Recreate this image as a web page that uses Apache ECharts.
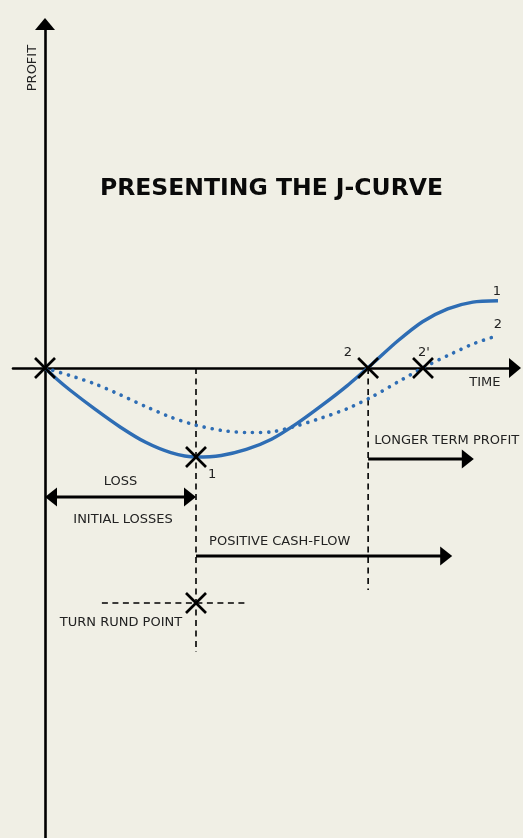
<!DOCTYPE html>
<html>
<head>
<meta charset="utf-8">
<script src="https://cdn.jsdelivr.net/npm/echarts@6/dist/echarts.min.js"></script>
<style>
html,body{margin:0;padding:0;background:#f0efe5;}
#chart{width:523px;height:838px;}
</style>
</head>
<body>
<div id="chart"></div>
<script>
// ---- data (time units / profit units) ----
const time1 = [0,0.25,0.5,1,1.5,2,2.5,3,3.5,4,4.5,5,5.5,6,6.5,7,7.5,8,8.5,9];
const profit1 = [0,-0.53,-1.0,-1.86,-2.66,-3.34,-3.8,-4.0,-3.93,-3.66,-3.2,-2.5,-1.68,-0.8,0.18,1.2,2.08,2.66,2.96,3.02];
const time2 = [0,0.5,1,1.5,2,2.5,3,3.5,4,4.5,5,5.5,6,6.5,7,7.5,8,8.5,8.9];
const profit2 = [0,-0.34,-0.72,-1.21,-1.73,-2.21,-2.57,-2.8,-2.9,-2.87,-2.6,-2.24,-1.83,-1.29,-0.64,0,0.56,1.08,1.39];

// crossing / turning points [time, profit]
const crossTimes = [0, 3, 6.42, 7.51, 3];
const crossProfits = [0, -4.0, 0, 0, -10.56];

// dashed guides: [time1, profit1, time2, profit2]
const guides = [
  [3, 0, 3, -12.76],
  [6.42, 0, 6.42, -9.98],
  [1.13, -10.56, 3.97, -10.56]
];

// arrows: [profit level, from time, to time, double-headed]
const arrows = [
  [-5.80, 0, 3, 1],
  [-4.09, 6.42, 8.52, 0],
  [-8.45, 3, 8.09, 0]
];

// annotations
const annotationText = ['LOSS','INITIAL LOSSES','POSITIVE CASH-FLOW','LONGER TERM PROFIT','TURN RUND POINT','TIME','2',"2'",'1','2','1','PROFIT'];
const annotationTime = [1.5, 1.55, 3.26, 6.54, 1.51, 8.74, 6.02, 7.53, 8.98, 9.0, 3.32, -0.24];
const annotationProfit = [-5.12, -6.83, -7.78, -3.28, -11.46, -0.67, 0.67, 0.67, 3.42, 1.93, -4.81, 13.48];
const annotationAlign = ['center','center','left','left','center','center','center','center','center','center','center','center'];
const annotationRotate = [0,0,0,0,0,0,0,0,0,0,0,1];

const BLUE = '#2e6db4';
const INK = '#000';
const TXT = '#222';
const FONT = '"DejaVu Sans", sans-serif';

const chart = echarts.init(document.getElementById('chart'));

const zip = (a, b) => a.map((v, i) => [v, b[i]]);

const option = {
  backgroundColor: '#f0efe5',
  animation: false,
  title: {
    text: 'PRESENTING THE J-CURVE',
    left: 95,
    top: 172,
    textStyle: { fontFamily: FONT, fontWeight: 'bold', fontSize: 23.5, color: '#0a0a0a' }
  },
  grid: { left: 13, right: 8, top: 24, bottom: 0, containLabel: false },
  xAxis: {
    type: 'value', min: -0.636, max: 9.338,
    axisLine: { show: true, onZero: true, symbol: ['none', 'triangle'], symbolSize: [20, 12], lineStyle: { color: INK, width: 2.6 } },
    axisTick: { show: false }, axisLabel: { show: false }, splitLine: { show: false }
  },
  yAxis: {
    type: 'value', min: -21.12, max: 15.46,
    axisLine: { show: true, onZero: true, symbol: ['none', 'triangle'], symbolSize: [20, 12], lineStyle: { color: INK, width: 2.6 } },
    axisTick: { show: false }, axisLabel: { show: false }, splitLine: { show: false }
  },
  series: [
    {
      type: 'custom', z: 2, silent: true,
      data: guides,
      encode: { x: [0, 2], y: [1, 3] },
      renderItem: (params, api) => {
        const a = api.coord([api.value(0), api.value(1)]);
        const b = api.coord([api.value(2), api.value(3)]);
        return { type: 'line', shape: { x1: a[0], y1: a[1], x2: b[0], y2: b[1] },
          style: { stroke: INK, lineWidth: 1.6, lineDash: [6, 4.5] } };
      }
    },
    {
      type: 'line', z: 3, silent: true, smooth: 0.25, showSymbol: false, symbol: 'none',
      data: zip(time2, profit2),
      lineStyle: { color: BLUE, width: 3.6, type: [0.1, 8], cap: 'round' }
    },
    {
      type: 'line', z: 3, silent: true, smooth: 0.25, showSymbol: false, symbol: 'none',
      data: zip(time1, profit1),
      lineStyle: { color: BLUE, width: 3.4 }
    },
    {
      type: 'custom', z: 4, silent: true,
      data: zip(crossTimes, crossProfits),
      encode: { x: 0, y: 1 },
      renderItem: (params, api) => {
        const p = api.coord([api.value(0), api.value(1)]);
        const h = 10;
        const st = { stroke: INK, lineWidth: 2.6 };
        return { type: 'group', children: [
          { type: 'line', shape: { x1: p[0]-h, y1: p[1]-h, x2: p[0]+h, y2: p[1]+h }, style: st },
          { type: 'line', shape: { x1: p[0]-h, y1: p[1]+h, x2: p[0]+h, y2: p[1]-h }, style: st }
        ]};
      }
    },
    {
      type: 'custom', z: 4, silent: true,
      data: arrows,
      encode: { x: [1, 2], y: 0 },
      renderItem: (params, api) => {
        const a = api.coord([api.value(1), api.value(0)]);
        const b = api.coord([api.value(2), api.value(0)]);
        const dbl = api.value(3) === 1;
        const L = 12, W = 9.5;
        const children = [];
        const x1 = dbl ? a[0] + L - 1 : a[0];
        const x2 = b[0] - L + 1;
        children.push({ type: 'line', shape: { x1: x1, y1: a[1], x2: x2, y2: b[1] }, style: { stroke: INK, lineWidth: 3 } });
        children.push({ type: 'polygon', shape: { points: [[b[0], b[1]], [b[0]-L, b[1]-W], [b[0]-L, b[1]+W]] }, style: { fill: INK } });
        if (dbl) {
          children.push({ type: 'polygon', shape: { points: [[a[0], a[1]], [a[0]+L, a[1]-W], [a[0]+L, a[1]+W]] }, style: { fill: INK } });
        }
        return { type: 'group', children };
      }
    },
    {
      type: 'custom', z: 5, silent: true,
      data: annotationText.map((t, i) => [annotationTime[i], annotationProfit[i], i]),
      encode: { x: 0, y: 1 },
      renderItem: (params, api) => {
        const i = api.value(2);
        const p = api.coord([api.value(0), api.value(1)]);
        return {
          type: 'text', x: p[0], y: p[1],
          rotation: annotationRotate[i] ? Math.PI / 2 : 0,
          style: { text: annotationText[i], fill: TXT, font: '13px ' + FONT,
            align: annotationAlign[i], verticalAlign: 'middle' }
        };
      }
    }
  ]
};
chart.setOption(option);
</script>
</body>
</html>
